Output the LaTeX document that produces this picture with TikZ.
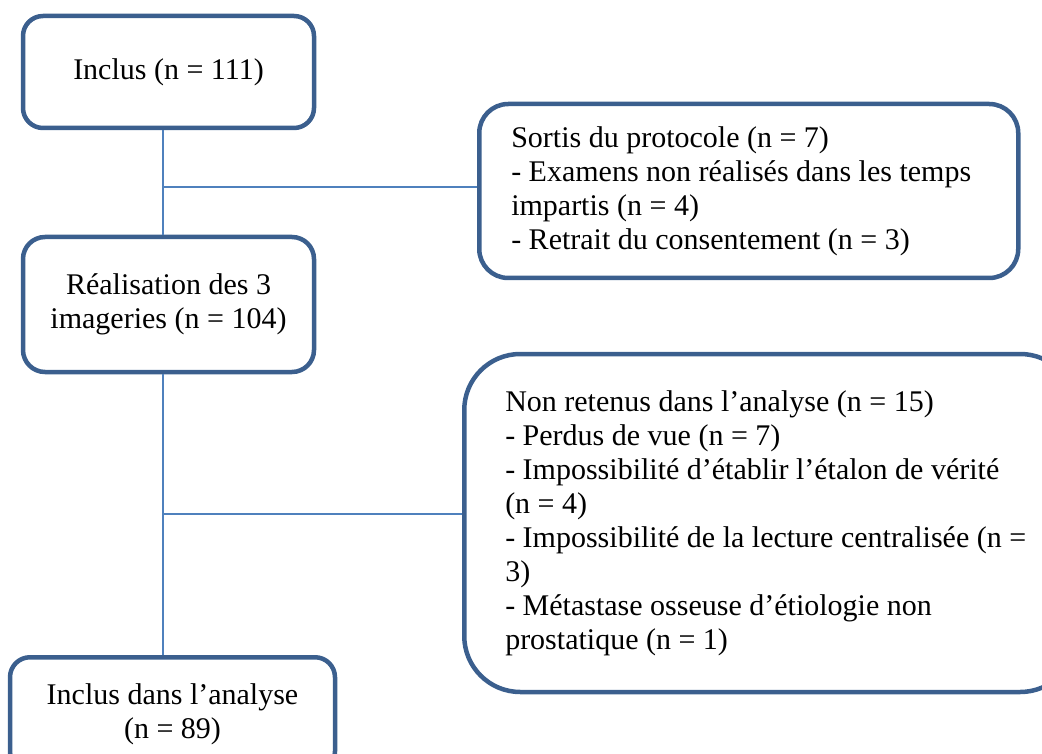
\documentclass[tikz,border=0pt]{standalone}
\usepackage{fontspec}
\setmainfont{Liberation Serif}
\usepackage{tikz}
\definecolor{boxblue}{HTML}{3B5F8E}
\definecolor{lineblue}{HTML}{4F81BD}

\begin{document}
\begin{tikzpicture}[x=1pt, y=-1pt,
  boxes/.style={draw=boxblue, line width=4.5pt, font=\fontsize{30}{34}\selectfont},
  paths/.style={draw=lineblue, line width=1.5pt}]

 \useasboundingbox (0,0) rectangle (1042,754);
 \clip (0,0) rectangle (1042,754);

 \node [boxes, rounded corners=20pt, minimum width=291pt, minimum height=112pt] (box_inclus) at (168.5,72)
     {Inclus (n = 111)};

 \node [boxes, rounded corners=29pt, anchor=west, text width=475pt, inner xsep=32pt,
        align=flush left, minimum height=174pt] (box_sortis) at (477,191)
     {Sortis du protocole (n = 7)\\
      - Examens non réalisés dans les temps\\
      impartis (n = 4)\\
      - Retrait du consentement (n = 3)};

 \node [boxes, rounded corners=22pt, minimum width=291pt, minimum height=135pt, align=center] (box_imagerie) at (168.5,304.5)
     {Réalisation des 3\\imageries (n = 104)};

 \node [boxes, rounded corners=56pt, anchor=west, text width=530pt, inner xsep=41pt,
        align=flush left, minimum height=338pt] (box_retenus) at (462,523)
     {Non retenus dans l’analyse (n = 15)\\
      - Perdus de vue (n = 7)\\
      - Impossibilité d’établir l’étalon de vérité\\
      (n = 4)\\
      - Impossibilité de la lecture centralisée (n =\\
      3)\\
      - Métastase osseuse d’étiologie non\\
      prostatique (n = 1)};

 \node [boxes, rounded corners=20pt, minimum width=325pt, minimum height=114pt, align=center,
        anchor=north] (box_analyse) at (172.5,655)
     {Inclus dans l’analyse\\(n = 89)};

 \coordinate (branch_1) at (163,187);
 \coordinate (branch_2) at (163,514);

 \draw [paths] (box_inclus.south -| branch_1) -- (box_imagerie.north -| branch_1);
 \draw [paths] (branch_1) -- (branch_1 -| box_sortis.west);
 \draw [paths] (box_imagerie.south -| branch_2) -- (box_analyse.north -| branch_2);
 \draw [paths] (branch_2) -- (branch_2 -| box_retenus.west);

\end{tikzpicture}
\end{document}
